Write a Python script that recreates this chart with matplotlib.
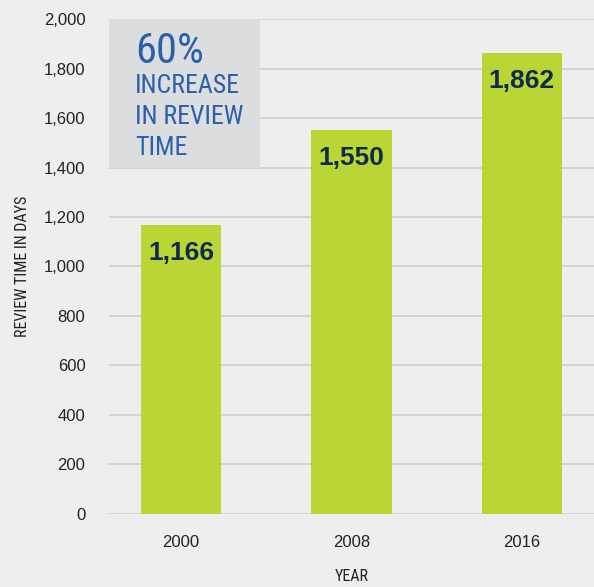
import matplotlib
matplotlib.use("Agg")
import matplotlib.pyplot as plt
from matplotlib.patches import Rectangle

# data
years = ["2000", "2008", "2016"]
days = [1166, 1550, 1862]
value_labels = ["1,166", "1,550", "1,862"]
yticks = [0, 200, 400, 600, 800, 1000, 1200, 1400, 1600, 1800, 2000]
ytick_labels = ["0", "200", "400", "600", "800", "1,000", "1,200", "1,400", "1,600", "1,800", "2,000"]
callout_lines = ["INCREASE", "IN REVIEW", "TIME"]

bg = "#eeeeee"
narrow = ["Roboto Condensed", "DejaVu Sans"]

fig = plt.figure(figsize=(5.94, 5.87), dpi=100, facecolor=bg)
ax = fig.add_axes([0.1835, 0.1244, 0.8165, 0.8432], facecolor=bg)

x = list(range(len(years)))
ax.bar(x, days, width=0.47, color="#b8d42c", alpha=0.95, zorder=2)

ax.set_xlim(-0.4235, 2.4235)
ax.set_ylim(0, 2000)
ax.set_yticks(yticks)
ax.set_yticklabels(ytick_labels)
ax.set_xticks(x)
ax.set_xticklabels(years)
ax.grid(axis="y", color="#cbcbcb", lw=1.1, zorder=0)
ax.set_axisbelow(True)
for s in ax.spines.values():
    s.set_visible(False)
ax.tick_params(axis="both", length=0, labelsize=12, colors="#222222")
ax.tick_params(axis="y", pad=17)
ax.tick_params(axis="x", pad=15)
for lab in ax.get_xticklabels() + ax.get_yticklabels():
    lab.set_family("Liberation Sans")

ax.set_ylabel("REVIEW TIME IN DAYS", family=narrow, fontsize=11.5, color="#222222", labelpad=10)
ax.set_xlabel("YEAR", family=narrow, fontsize=11.5, color="#222222", labelpad=14)

# value labels inside bars
for xi, v, lab in zip(x, days, value_labels):
    ax.text(xi, v - 62, lab, ha="center", va="top", fontsize=19, fontweight="bold",
            color="#102a4c", family="Liberation Sans", zorder=3)

# callout box
ax.add_patch(Rectangle((-0.4235, 1400), 0.888, 600, facecolor="#dcdddf", edgecolor="none", zorder=1))
blue = "#2b5fad"
ax.text(-0.27, 1822, "60%", ha="left", va="baseline", fontsize=30.5, color=blue, family=narrow, zorder=3)
for i, line in enumerate(callout_lines):
    ax.text(-0.27, 1701 - i * 125, line, ha="left", va="baseline", fontsize=18.5, color=blue,
            family=narrow, zorder=3)

fig.savefig("out.png", dpi=100, facecolor=bg)
